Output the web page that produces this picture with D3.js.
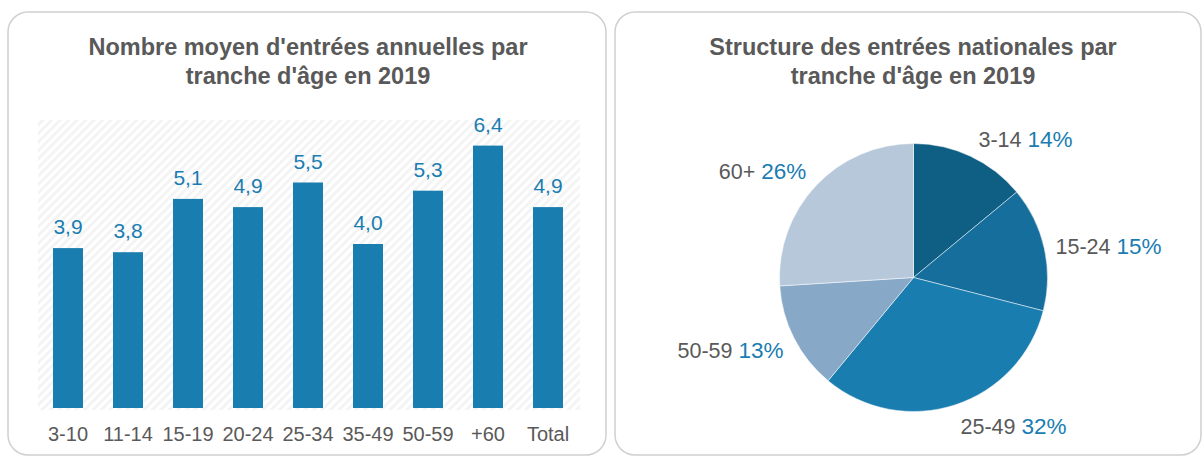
<!DOCTYPE html>
<html>
<head>
<meta charset="utf-8">
<script src="https://cdn.jsdelivr.net/npm/d3@7"></script>
<style>
  body { margin: 0; background: #fff; }
  svg { display: block; font-family: "Liberation Sans", Arial, sans-serif; }
</style>
</head>
<body>
<svg id="chart" width="1203" height="457"></svg>
<script>
// Bar chart data
const ageGroups = ['3-10', '11-14', '15-19', '20-24', '25-34', '35-49', '50-59', '+60', 'Total'];
const avgEntries = [3.9, 3.8, 5.1, 4.9, 5.5, 4.0, 5.3, 6.4, 4.9];

// Pie chart data
const pieGroups = ['3-14', '15-24', '25-49', '50-59', '60+'];
const pieShares = [14, 15, 32, 13, 26];
const pieColors = ['#0f5e83', '#156e9c', '#1a7db0', '#87a8c7', '#b7c8db'];

const GREY = '#595959';
const BLUE = '#1a7db1';
const FONT = '"Liberation Sans", Arial, sans-serif';

const svg = d3.select('#chart');

// hatch pattern for bar plot background
const defs = svg.append('defs');
defs.append('pattern')
  .attr('id', 'hatch')
  .attr('patternUnits', 'userSpaceOnUse')
  .attr('width', 6).attr('height', 6)
  .attr('patternTransform', 'rotate(45)')
  .append('rect')
  .attr('width', 3).attr('height', 6)
  .attr('fill', '#f4f4f4');

// panels
function panel(x, w) {
  svg.append('rect')
    .attr('x', x).attr('y', 12)
    .attr('width', w).attr('height', 443)
    .attr('rx', 20).attr('ry', 20)
    .attr('fill', '#fff')
    .attr('stroke', '#d0d0d0')
    .attr('stroke-width', 1.5);
}
panel(8, 598);
panel(615, 586);

function title(cx, lines) {
  const t = svg.append('text')
    .attr('text-anchor', 'middle')
    .attr('font-size', 23.5)
    .attr('font-weight', 'bold')
    .attr('fill', GREY);
  lines.forEach((l, i) => {
    t.append('tspan').attr('x', cx).attr('y', 55 + i * 29).text(l);
  });
}
title(308, ["Nombre moyen d'entrées annuelles par", "tranche d'âge en 2019"]);
title(913, ["Structure des entrées nationales par", "tranche d'âge en 2019"]);

// ---- Bar chart ----
const x = d3.scaleBand().domain(ageGroups).range([38, 578]).paddingInner(0.5).paddingOuter(0.25);
const y = d3.scaleLinear().domain([0, 7]).range([408, 121]);

svg.append('rect')
  .attr('x', 38).attr('y', 120)
  .attr('width', 542).attr('height', 290)
  .attr('fill', 'url(#hatch)');

const barsG = svg.append('g');
barsG.selectAll('rect')
  .data(avgEntries)
  .enter()
  .append('rect')
  .attr('x', (d, i) => x(ageGroups[i]))
  .attr('y', (d) => y(d))
  .attr('width', x.bandwidth())
  .attr('height', (d) => y(0) - y(d))
  .attr('fill', '#1a7db0');

barsG.selectAll('text')
  .data(avgEntries)
  .enter()
  .append('text')
  .attr('x', (d, i) => x(ageGroups[i]) + x.bandwidth() / 2)
  .attr('y', (d) => y(d) - 14)
  .attr('text-anchor', 'middle')
  .attr('font-size', 21)
  .attr('fill', BLUE)
  .text((d) => d3.format('.1f')(d).replace('.', ','));

const xAxis = d3.axisBottom(x).tickSize(0).tickPadding(19);
const axisG = svg.append('g').attr('transform', 'translate(0,' + y(0) + ')').call(xAxis);
axisG.select('.domain').remove();
axisG.attr('font-family', FONT).attr('font-size', 20);
axisG.selectAll('text').attr('fill', GREY);

// ---- Pie chart ----
const cx = 913.5, cy = 277.5, r = 134;
const pie = d3.pie().sort(null).value((d) => d)(pieShares);
const arc = d3.arc().innerRadius(0).outerRadius(r);

const pieG = svg.append('g').attr('transform', 'translate(' + cx + ',' + cy + ')');
pieG.selectAll('path')
  .data(pie)
  .enter()
  .append('path')
  .attr('d', arc)
  .attr('fill', (d, i) => pieColors[i])
  .attr('stroke', '#fff')
  .attr('stroke-width', 0.5);

// label positions (relative to pie centre)
const labelPos = [[112, -131], [195, -24], [100, 156], [-183, 80], [-151, -99]];
pie.forEach((d, i) => {
  const t = pieG.append('text')
    .attr('x', labelPos[i][0])
    .attr('y', labelPos[i][1])
    .attr('text-anchor', 'middle')
    .attr('font-size', 21.5);
  t.append('tspan').attr('fill', GREY).text(pieGroups[i] + ' ');
  t.append('tspan').attr('fill', BLUE).attr('font-size', 22.5).text(pieShares[i] + '%');
});
</script>
</body>
</html>
